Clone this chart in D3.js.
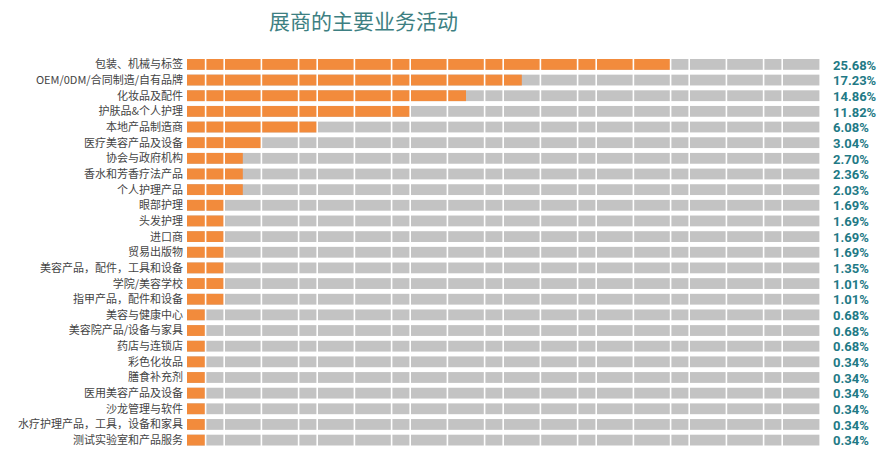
<!DOCTYPE html>
<html>
<head>
<meta charset="utf-8">
<script src="https://cdn.jsdelivr.net/npm/d3@7"></script>
<style>
  body { margin: 0; background: #fff; }
  svg { display: block; }
</style>
</head>
<body>
<svg id="chart"></svg>
<script>
// chart data
const categories = [
  "包装、机械与标签", "OEM/0DM/合同制造/自有品牌", "化妆品及配件", "护肤品&个人护理",
  "本地产品制造商", "医疗美容产品及设备", "协会与政府机构", "香水和芳香疗法产品",
  "个人护理产品", "眼部护理", "头发护理", "进口商", "贸易出版物",
  "美容产品，配件，工具和设备", "学院/美容学校", "指甲产品，配件和设备",
  "美容与健康中心", "美容院产品/设备与家具", "药店与连锁店", "彩色化妆品",
  "膳食补充剂", "医用美容产品及设备", "沙龙管理与软件",
  "水疗护理产品，工具，设备和家具", "测试实验室和产品服务"
];
const values = [
  25.68, 17.23, 14.86, 11.82, 6.08, 3.04, 2.70, 2.36, 2.03, 1.69, 1.69, 1.69, 1.69,
  1.35, 1.01, 1.01, 0.68, 0.68, 0.68, 0.34, 0.34, 0.34, 0.34, 0.34, 0.34
];
const maxUnits = 34;
const gridTicks = [1, 2, 4, 6, 7, 9, 11, 12, 14, 16, 17, 19, 21, 22, 24, 26, 27, 29, 31, 32];
const title = "展商的主要业务活动";

const width = 891, height = 454;
const svg = d3.select("#chart").attr("width", width).attr("height", height);

const data = categories.map((c, i) => ({ name: c, value: values[i] }));

const x = d3.scaleLinear().domain([0, maxUnits]).range([187, 819.4]);
const y = d3.scaleBand().domain(categories).range([59, 445.5]).paddingInner(0.31).paddingOuter(0);

// title
svg.append("text")
  .attr("x", 363.5)
  .attr("y", 29)
  .attr("text-anchor", "middle")
  .style("font-family", "'Noto Sans CJK SC', sans-serif")
  .style("font-size", "21px")
  .style("fill", "#3d7f82")
  .text(title);

const rows = svg.append("g").selectAll("g")
  .data(data)
  .join("g")
  .attr("transform", d => `translate(0,${y(d.name)})`);

// gray track
rows.append("rect")
  .attr("x", x(0))
  .attr("width", x(maxUnits) - x(0))
  .attr("height", y.bandwidth())
  .style("fill", "#c3c3c3");

// orange bar, filled in whole units
rows.append("rect")
  .attr("x", x(0))
  .attr("width", d => x(Math.ceil(d.value)) - x(0))
  .attr("height", y.bandwidth())
  .style("fill", "#f28b3c");

// white unit separators
svg.append("g").selectAll("line")
  .data(gridTicks)
  .join("line")
  .attr("x1", d => x(d)).attr("x2", d => x(d))
  .attr("y1", y.range()[0] - 1).attr("y2", y.range()[1] + 1)
  .style("stroke", "#fff")
  .style("stroke-width", 1.6);

// category labels
rows.append("text")
  .attr("x", 183)
  .attr("y", y.bandwidth() / 2)
  .attr("dy", "0.36em")
  .attr("text-anchor", "end")
  .style("font-family", "'Noto Sans CJK SC', sans-serif")
  .style("font-size", "11px")
  .style("fill", "#444")
  .text(d => d.name);

// value labels
rows.append("text")
  .attr("x", 833)
  .attr("y", y.bandwidth() / 2)
  .attr("dy", "0.4em")
  .style("font-family", "Roboto, sans-serif")
  .style("font-weight", "bold")
  .style("font-size", "13px")
  .style("fill", "#1f7a86")
  .text(d => d.value.toFixed(2) + "%");
</script>
</body>
</html>
